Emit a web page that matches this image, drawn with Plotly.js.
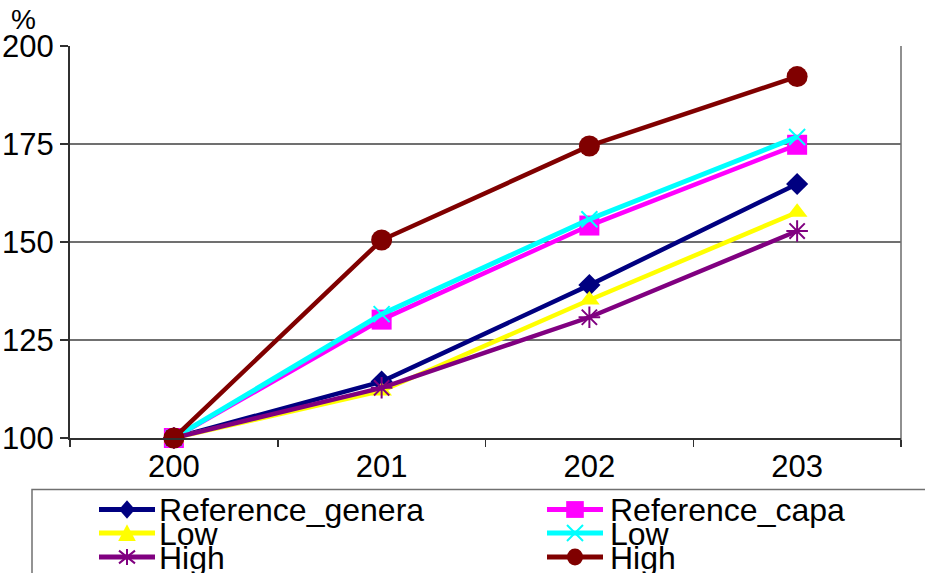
<!DOCTYPE html>
<html>
<head>
<meta charset="utf-8">
<script src="https://cdn.plot.ly/plotly-3.0.1.min.js"></script>
<style>html,body{margin:0;padding:0;background:#fff;}#chart{width:925px;height:573px;}</style>
</head>
<body>
<div id="chart"></div>
<script>
// ---- data ----
const categories = ['200', '201', '202', '203'];
const seriesNames = ['Reference_genera', 'Reference_capa', 'Low', 'Low', 'High', 'High'];
const refGenera = [100, 114.4, 139.0, 164.8];
const refCapa   = [100, 130.2, 154.2, 174.8];
const lowA      = [100, 112.0, 135.2, 157.6];
const lowB      = [100, 131.6, 155.8, 176.8];
const highA     = [100, 112.8, 130.8, 152.8];
const highB     = [100, 150.5, 174.5, 192.2];
const yTicks    = [100, 125, 150, 175, 200];

// ---- styles ----
const colors  = ['#000080', '#FF00FF', '#FFFF00', '#00FFFF', '#800080', '#800000'];
const symbols = ['diamond', 'square', 'triangle-up', 'x-thin', 'asterisk', 'circle'];
const msizes  = [17, 20, 18, 16, 18, 21];
const lwidths = [4.5, 4.5, 4.5, 5, 4.5, 4.5];
const allValues = [refGenera, refCapa, lowA, lowB, highA, highB];

const W = 925, H = 573;
const M = {l: 70, r: 24, t: 46, b: 135};
const PW = W - M.l - M.r, PH = H - M.t - M.b;
const X = px => (px - M.l) / PW;
const Y = py => (H - M.b - py) / PH;
const FONT = 'Liberation Sans, Arial, sans-serif';

const traces = allValues.map((vals, i) => {
  const thin = symbols[i] === 'x-thin' || symbols[i] === 'asterisk';
  return {
    type: 'scatter', mode: 'lines+markers',
    x: categories, y: vals, name: seriesNames[i],
    line: {color: colors[i], width: lwidths[i]},
    marker: {symbol: symbols[i], size: msizes[i], color: colors[i],
             line: {color: colors[i], width: thin ? 2 : 0}},
    cliponaxis: false, showlegend: false, hoverinfo: 'skip'
  };
});

// ---- manual legend (tight rows like the original) ----
const shapes = [];
const annotations = [];
shapes.push({type: 'rect', xref: 'paper', yref: 'paper', x0: X(32), x1: X(940), y0: Y(489.5), y1: Y(590),
  line: {color: '#707070', width: 1.5}, fillcolor: 'rgba(0,0,0,0)', layer: 'below'});
shapes.push({type: 'line', xref: 'paper', yref: 'paper', x0: 1, x1: 1, y0: Y(445), y1: 1,
  line: {color: '#909090', width: 2}, layer: 'below'});

function markerPath(sym, cx, cy, s) {
  const r = s / 2;
  const p = (x, y) => X(x) + ',' + Y(y);
  switch (sym) {
    case 'diamond': return 'M' + p(cx - r, cy) + 'L' + p(cx, cy - r * 1.15) + 'L' + p(cx + r, cy) + 'L' + p(cx, cy + r * 1.15) + 'Z';
    case 'square': return 'M' + p(cx - r * 1.1, cy - r * 1.05) + 'L' + p(cx + r * 1.1, cy - r * 1.05) + 'L' + p(cx + r * 1.1, cy + r * 1.05) + 'L' + p(cx - r * 1.1, cy + r * 1.05) + 'Z';
    case 'triangle-up': return 'M' + p(cx - r * 1.1, cy + r) + 'L' + p(cx, cy - r * 1.1) + 'L' + p(cx + r * 1.1, cy + r) + 'Z';
    case 'x-thin': return 'M' + p(cx - r, cy - r) + 'L' + p(cx + r, cy + r) + 'M' + p(cx - r, cy + r) + 'L' + p(cx + r, cy - r);
    case 'asterisk': return 'M' + p(cx, cy - r) + 'L' + p(cx, cy + r) + 'M' + p(cx - r, cy - r * 0.8) + 'L' + p(cx + r, cy + r * 0.8) + 'M' + p(cx - r, cy + r * 0.8) + 'L' + p(cx + r, cy - r * 0.8);
    default: return '';
  }
}

const colX = [[99, 155, 157], [547, 603, 608]];
const rowY = [509.5, 533, 557];
seriesNames.forEach((name, i) => {
  const col = colX[i % 2], cy = rowY[Math.floor(i / 2)];
  const cx = (col[0] + col[1]) / 2;
  shapes.push({type: 'line', xref: 'paper', yref: 'paper', x0: X(col[0]), x1: X(col[1]), y0: Y(cy), y1: Y(cy),
    line: {color: colors[i], width: 5}});
  if (symbols[i] === 'circle') {
    shapes.push({type: 'circle', xref: 'paper', yref: 'paper', x0: X(cx - 8), x1: X(cx + 8), y0: Y(cy - 8.5), y1: Y(cy + 8.5),
      fillcolor: colors[i], line: {width: 0}});
  } else {
    const thin = symbols[i] === 'x-thin' || symbols[i] === 'asterisk';
    shapes.push({type: 'path', xref: 'paper', yref: 'paper', path: markerPath(symbols[i], cx, cy, 16),
      fillcolor: thin ? 'rgba(0,0,0,0)' : colors[i], line: {color: colors[i], width: thin ? 2 : 0}});
  }
  annotations.push({xref: 'paper', yref: 'paper', x: X(col[2]), y: Y(cy + 1), text: name, showarrow: false,
    xanchor: 'left', yanchor: 'middle', font: {family: FONT, size: 32, color: '#000'}});
});

annotations.push({xref: 'paper', yref: 'paper', x: X(9), y: Y(37), text: '%', showarrow: false,
  xanchor: 'left', yanchor: 'bottom', font: {family: FONT, size: 28, color: '#000'}});

const layout = {
  width: W, height: H,
  margin: {l: M.l, r: M.r, t: M.t, b: M.b, pad: 0},
  paper_bgcolor: '#fff', plot_bgcolor: '#fff',
  showlegend: false,
  font: {family: FONT, size: 31, color: '#000'},
  xaxis: {type: 'category', tickvals: categories, ticktext: categories, range: [-0.5, 3.5],
    showgrid: false, zeroline: false, showline: true, linecolor: '#303030', linewidth: 2,
    ticks: 'outside', tickson: 'boundaries', ticklen: 7, tickcolor: '#303030', tickwidth: 1.5,
    tickfont: {size: 31}, fixedrange: true},
  yaxis: {range: [100, 200], tickvals: yTicks, ticktext: yTicks.map(String),
    showgrid: true, gridcolor: '#707070', gridwidth: 1.5, zeroline: false,
    showline: true, linecolor: '#303030', linewidth: 2,
    ticks: 'outside', ticklen: 8, tickcolor: '#303030', tickwidth: 1.5,
    tickfont: {size: 31}, fixedrange: true},
  shapes: shapes, annotations: annotations
};

Plotly.newPlot('chart', traces, layout, {displayModeBar: false, staticPlot: true});
</script>
</body>
</html>
